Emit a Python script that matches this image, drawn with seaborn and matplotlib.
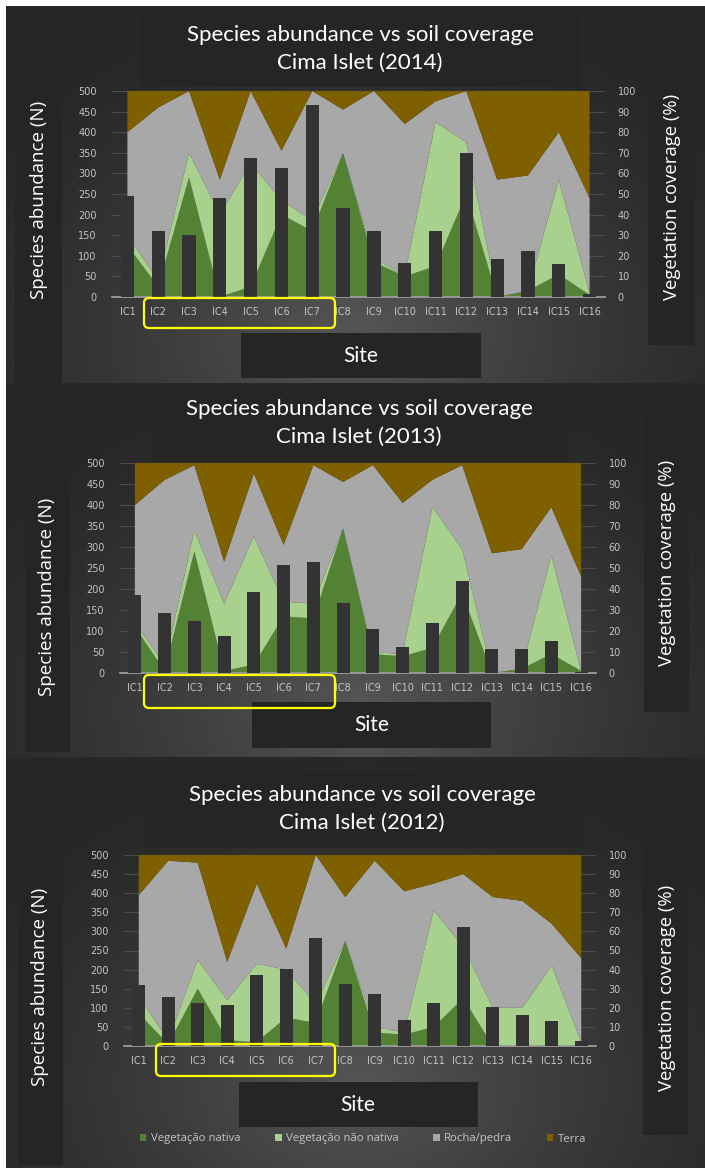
import numpy as np
import matplotlib
matplotlib.use("Agg")
import matplotlib.pyplot as plt
from matplotlib.patches import Rectangle, FancyBboxPatch
import seaborn as sns

# ---------------- data ----------------
SITES = ["IC1", "IC2", "IC3", "IC4", "IC5", "IC6", "IC7", "IC8",
         "IC9", "IC10", "IC11", "IC12", "IC13", "IC14", "IC15", "IC16"]
YEARS = ["2014", "2013", "2012"]
SERIES = ["Vegetação nativa", "Vegetação não nativa", "Rocha/pedra", "Terra"]

# species abundance (N)
abund_2014 = [245, 161, 151, 240, 337, 313, 467, 215, 160, 83, 161, 350, 93, 112, 79, 8]
abund_2013 = [186, 143, 124, 88, 192, 258, 264, 166, 104, 62, 119, 220, 56, 56, 76, 3]
abund_2012 = [159, 128, 113, 107, 185, 201, 284, 163, 137, 69, 113, 312, 102, 80, 65, 12]

# coverage (%) per class
native_2014 = [25, 5, 58, 0, 5, 40, 32, 70, 17, 10, 15, 50, 0, 3, 11, 1]
nonnat_2014 = [5, 3, 12, 40, 60, 7, 5, 0, 2, 0, 70, 25, 0, 0, 46, 1]
rock_2014 = [50, 84, 30, 17, 35, 24, 63, 21, 81, 74, 10, 25, 57, 56, 23, 46]
terra_2014 = [20, 8, 0, 43, 0, 29, 0, 9, 0, 16, 5, 0, 43, 41, 20, 52]

native_2013 = [22, 1, 58, 1, 4, 27, 26, 69, 9, 8, 12, 38, 0, 2, 9, 1]
nonnat_2013 = [2, 3, 10, 32, 61, 7, 7, 0, 1, 1, 67, 21, 0, 0, 47, 0]
rock_2013 = [56, 88, 31, 20, 30, 27, 66, 22, 89, 72, 13, 40, 57, 57, 23, 45]
terra_2013 = [20, 8, 1, 47, 5, 39, 1, 9, 1, 19, 8, 1, 43, 41, 21, 54]

native_2012 = [17, 1, 30, 3, 2, 15, 12, 55, 7, 6, 10, 25, 0, 0, 0, 0]
nonnat_2012 = [9, 2, 15, 21, 41, 25, 10, 0, 3, 1, 61, 27, 20, 20, 42, 2]
rock_2012 = [53, 94, 51, 20, 42, 11, 78, 23, 87, 74, 14, 38, 58, 56, 22, 44]
terra_2012 = [21, 3, 4, 56, 15, 49, 0, 22, 3, 19, 15, 10, 22, 24, 36, 54]

ABUND = [abund_2014, abund_2013, abund_2012]
COVER = [[native_2014, nonnat_2014, rock_2014, terra_2014],
         [native_2013, nonnat_2013, rock_2013, terra_2013],
         [native_2012, nonnat_2012, rock_2012, terra_2012]]

# ---------------- style ----------------
AREA_COLORS = ["#548235", "#A9D18E", "#A8A8A8", "#7F6000"]
BAR_COLOR = "#333333"
BOX = "#252525"
TICK = "#c4c4c4"

W, H = 705, 1168
fig = plt.figure(figsize=(W / 100, H / 100), dpi=100, facecolor="white")

# background axes in pixel coordinates
bg = fig.add_axes([0, 0, 1, 1], zorder=-10)
bg.set_xlim(0, W)
bg.set_ylim(H, 0)
bg.axis("off")

yy, xx = np.mgrid[0:H, 0:W]
img = np.ones((H, W, 3))
panels_rows = [(6, 383, 355, 330), (383, 757, 360, 705), (757, H, 360, 1085)]
for (y0, y1, cx, cy) in panels_rows:
    sl = slice(y0, y1)
    d = np.sqrt(((xx[sl] - cx) / 430.0) ** 2 + ((yy[sl] - cy) / 330.0) ** 2)
    f = np.clip(1 - d, 0, 1) ** 1.3
    c = 0.155 + (0.335 - 0.155) * f
    img[sl, 6:, :] = c[:, 6:, None]
bg.imshow(img, extent=(0, W, H, 0), aspect="auto", interpolation="bilinear")

def box(x0, y0, x1, y1):
    bg.add_patch(Rectangle((x0, y0), x1 - x0, y1 - y0, facecolor=BOX, edgecolor="none"))

layout = [
    dict(title=(140, 9, 580, 87), tl=(360, 35, 63), left=(15, 16, 62, 383), lt=(39, 200),
         right=(648, 48, 695, 345), rt=(672, 197), site=(241, 333, 481, 378), st=(361, 356),
         ax=(112, 91, 605, 297), yel=(144, 298, 335, 328)),
    dict(title=(151, 384, 567, 462), tl=(359, 409, 437), left=(25, 410, 70, 752), lt=(47, 597),
         right=(644, 413, 689, 712), rt=(667, 563), site=(252, 702, 491, 748), st=(372, 725),
         ax=(120, 463, 596, 673), yel=(144, 675, 335, 708)),
    dict(title=(143, 770, 583, 848), tl=(362, 795, 823), left=(18, 802, 63, 1165), lt=(40, 987),
         right=(643, 838, 688, 1135), rt=(667, 988), site=(239, 1082, 478, 1127), st=(358, 1105),
         ax=(124, 855, 596, 1046), yel=(156, 1044, 335, 1076)),
]

x = np.arange(len(SITES))
handles = None
for i, L in enumerate(layout):
    box(*L["title"]); box(*L["left"]); box(*L["right"]); box(*L["site"])
    bg.text(L["tl"][0], L["tl"][1], "Species abundance vs soil coverage", color="white",
            fontsize=16, family="Lato", ha="center", va="center")
    bg.text(L["tl"][0], L["tl"][2], f"Cima Islet ({YEARS[i]})", color="white",
            fontsize=16, family="Lato", ha="center", va="center")
    bg.text(L["lt"][0], L["lt"][1], "Species abundance (N)", color="white", rotation=90,
            fontsize=13.5, family="Open Sans", ha="center", va="center")
    bg.text(L["rt"][0], L["rt"][1], "Vegetation coverage (%)", color="white", rotation=90,
            fontsize=13.3, family="Open Sans", ha="center", va="center")
    bg.text(L["st"][0], L["st"][1], "Site", color="white", fontsize=15, family="Lato",
            ha="center", va="center")

    x0, y0, x1, y1 = L["ax"]
    ax = fig.add_axes([x0 / W, 1 - y1 / H, (x1 - x0) / W, (y1 - y0) / H])
    ax.patch.set_visible(False)
    axb = ax.twinx()
    axb.patch.set_visible(False)

    polys = ax.stackplot(x, *COVER[i], colors=AREA_COLORS, labels=SERIES, zorder=1,
                         linewidth=0)
    if handles is None:
        handles = polys
    sns.barplot(x=SITES, y=ABUND[i], ax=axb, color=BAR_COLOR, saturation=1,
                width=0.43, linewidth=0, errorbar=None)

    ax.set_xlim(-0.5, len(SITES) - 0.5)
    ax.set_ylim(0, 100)
    axb.set_ylim(0, 500)
    ax.set_yticks(np.arange(0, 101, 10))
    axb.set_yticks(np.arange(0, 501, 50))
    ax.yaxis.tick_right()
    axb.yaxis.tick_left()
    ax.set_xticks(x)
    ax.set_xticklabels(SITES)
    ax.set_axisbelow(True)
    ax.yaxis.grid(True, color="#4c4c4c", linewidth=0.8)
    ax.xaxis.grid(False)
    axb.grid(False)
    axb.set_xlabel(""); axb.set_ylabel(""); ax.set_xlabel(""); ax.set_ylabel("")
    for a in (ax, axb):
        for s in a.spines.values():
            s.set_visible(False)
    ax.spines["bottom"].set_visible(True)
    ax.spines["bottom"].set_color("#9c9c9c")
    ax.spines["bottom"].set_linewidth(1.3)
    ax.tick_params(axis="y", length=0, pad=9, labelsize=7, labelcolor=TICK)
    axb.tick_params(axis="y", length=0, pad=11, labelsize=7, labelcolor=TICK)
    ax.tick_params(axis="x", length=0, pad=7, labelsize=7, labelcolor=TICK)

    yx0, yy0, yx1, yy1 = L["yel"]
    fig.add_artist(FancyBboxPatch((yx0, yy0), yx1 - yx0, yy1 - yy0,
                                  boxstyle="round,pad=0,rounding_size=5",
                                  facecolor="none", edgecolor="#FFFF00", linewidth=1.6,
                                  transform=bg.transData, zorder=20))

fig.legend(handles, SERIES, loc="center", bbox_to_anchor=(363 / W, 1 - 1139 / H),
           ncol=4, frameon=False, labelcolor=TICK, handlelength=0.6,
           handleheight=0.6, handletextpad=0.4, columnspacing=3.0,
           prop={"family": "Open Sans", "size": 8.2})

fig.savefig("out.png", dpi=100, facecolor="white")
